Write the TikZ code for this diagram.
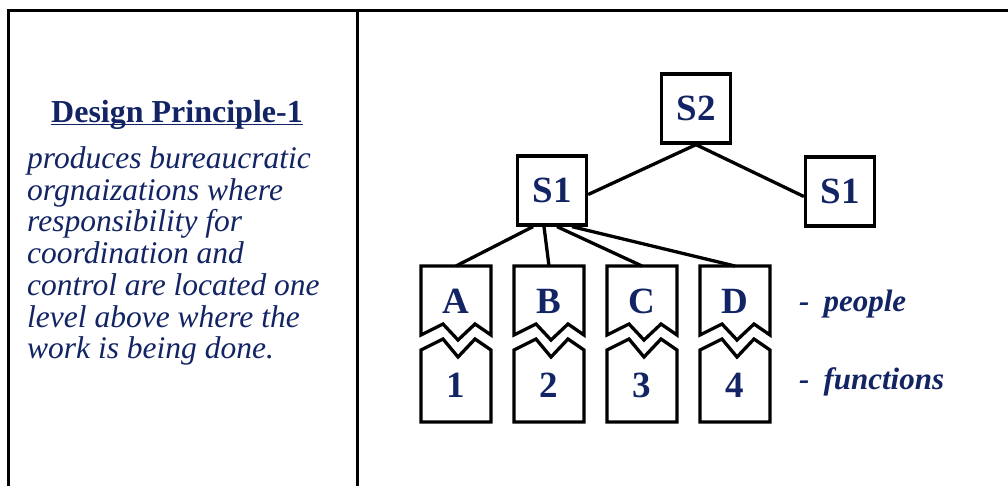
\documentclass[tikz,border=0pt]{standalone}
\usepackage{fontspec}
\setmainfont{Liberation Serif}
\definecolor{navy}{RGB}{18,36,100}
\begin{document}
\begin{tikzpicture}[x=1pt,y=-1pt,
  box/.style={draw=black, line width=3.3pt, minimum width=69pt, minimum height=69pt, inner sep=0pt, font=\fontsize{37}{40}\selectfont\bfseries, text=navy},
  lbl/.style={inner sep=0pt, anchor=base, font=\fontsize{37}{40}\selectfont\bfseries, text=navy},
  side/.style={inner sep=0pt, anchor=base west, font=\fontsize{31}{34}\selectfont\bfseries\itshape, text=navy},
  conn/.style={draw=black, line width=3.3pt},
  piece/.style={draw=black, line width=3.3pt, line join=miter},
  frame/.style={draw=black, line width=3pt}]
\useasboundingbox (0,0) rectangle (1008,485);
\clip (0,0) rectangle (1008,485);
\draw[frame] (8,10) rectangle (1030,510);
\draw[frame] (357.5,10) -- (357.5,510);
% left text
\node[anchor=base, inner sep=0pt, font=\fontsize{32}{36}\selectfont\bfseries, text=navy] (title) at (177,122) {Design Principle-1};
\draw[navy, line width=1.6pt] ([yshift=-2.5pt]title.base west) -- ([yshift=-2.5pt]title.base east);
\node[anchor=north west, align=left, inner sep=0pt, font=\fontsize{31.5}{31.7}\selectfont\itshape, text=navy] (body) at (27,146.5)
  {produces bureaucratic\\ orgnaizations where\\ responsibility for\\ coordination and\\ control are located one\\ level above where the\\ work is being done.};
% hierarchy
\node[box] (S2) at (696,108.5) {S2};
\node[box] (S1) at (552,190.5) {S1};
\node[box] (S1r) at (840,191.5) {S1};
\draw[conn] (S2.south) -- ([yshift=-4pt]S1.east);
\draw[conn] (S2.south) -- ([yshift=-5pt]S1r.west);
\foreach \x/\p/\n/\s in {421/A/1/-19, 514/B/2/-8, 607/C/3/5, 700/D/4/20}{
  \draw[piece] (\x,266) -- (\x+70,266) -- (\x+70,335) -- (\x+54,324) -- (\x+37,340) -- (\x+22,324) -- (\x,335) -- cycle;
  \draw[piece] (\x,350) -- (\x+22,339) -- (\x+37,357) -- (\x+54,339) -- (\x+70,350) -- (\x+70,422) -- (\x,422) -- cycle;
  \coordinate (t\p) at (\x+35,266);
  \node[lbl] (\p) at (\x+35,313) {\p};
  \node[lbl] (n\n) at (\x+35,397) {\n};
  \draw[conn] ([xshift=\s pt]S1.south) -- (t\p);
}
\node[side] (people) at (799,311) {\textbf{-}\hspace{14pt}people};
\node[side] (functions) at (799,389) {\textbf{-}\hspace{14pt}functions};
\end{tikzpicture}
\end{document}
